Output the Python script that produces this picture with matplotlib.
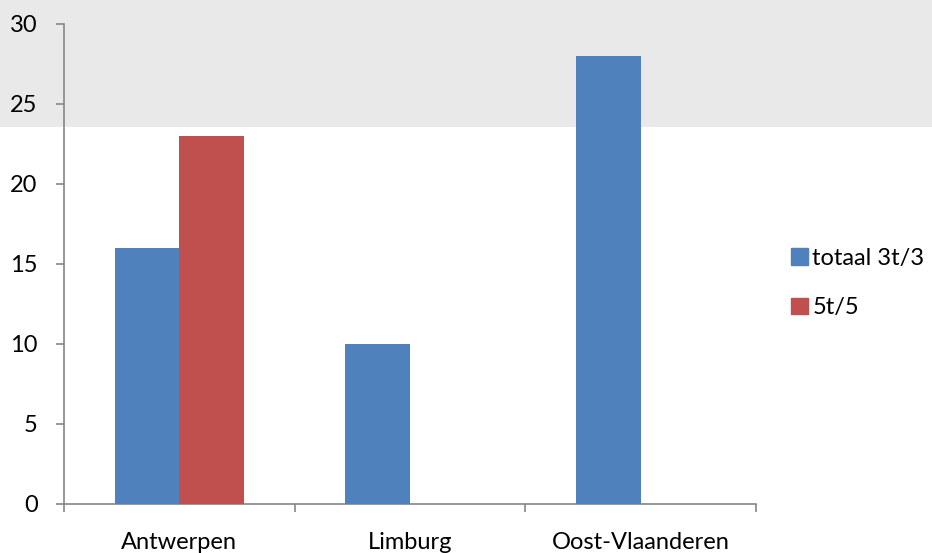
import matplotlib.pyplot as plt
import numpy as np
from matplotlib.patches import Rectangle, Patch

plt.rcParams['font.family'] = ['Lato', 'DejaVu Sans']

categories = ['Antwerpen', 'Limburg', 'Oost-Vlaanderen']
totaal = [16, 10, 28]
vijf = [23, 0, 0]
series_names = ['totaal 3t/3', '5t/5']
yticks = [0, 5, 10, 15, 20, 25, 30]

blue = '#4f81bd'
red = '#c0504d'
grey = '#868686'

fig = plt.figure(figsize=(9.32, 5.53), dpi=100)
fig.patch.set_facecolor('white')
# textured band at the top of the picture
band = Rectangle((0, 1 - 127 / 553), 1, 127 / 553, transform=fig.transFigure,
                 facecolor='#e9e9e9', edgecolor='none', zorder=-5)
fig.patches.append(band)

ax = fig.add_axes([64 / 932, 49 / 553, (756 - 64) / 932, (504 - 24) / 553])
ax.set_zorder(2)
ax.patch.set_alpha(0)

x = np.arange(len(categories))
w = 0.28
ax.bar(x - w / 2, totaal, w, color=blue, label=series_names[0], zorder=3)
ax.bar(x + w / 2, vijf, w, color=red, label=series_names[1], zorder=3)

ax.set_xlim(-0.5, len(categories) - 0.5)
ax.set_ylim(0, 30)
ax.set_yticks(yticks)
ax.set_xticks(x)
ax.set_xticklabels(categories)
ax.set_xticks(np.arange(len(categories) + 1) - 0.5, minor=True)

for s in ['top', 'right']:
    ax.spines[s].set_visible(False)
for s in ['left', 'bottom']:
    ax.spines[s].set_color(grey)
    ax.spines[s].set_linewidth(1.2)

ax.tick_params(axis='y', length=6, color=grey, width=1.2, labelsize=17, pad=13)
ax.tick_params(axis='x', which='major', length=0, labelsize=17, pad=20)
ax.tick_params(axis='x', which='minor', length=6, color=grey, width=1.2)

handles = [Patch(color=blue), Patch(color=red)]
fig.legend(handles, series_names, loc='center left', bbox_to_anchor=(770 / 932, 1 - 283 / 553),
           frameon=False, fontsize=17, handlelength=0.7, handleheight=0.7,
           handletextpad=0.2, labelspacing=1.2)

fig.savefig('out.png', dpi=100)
